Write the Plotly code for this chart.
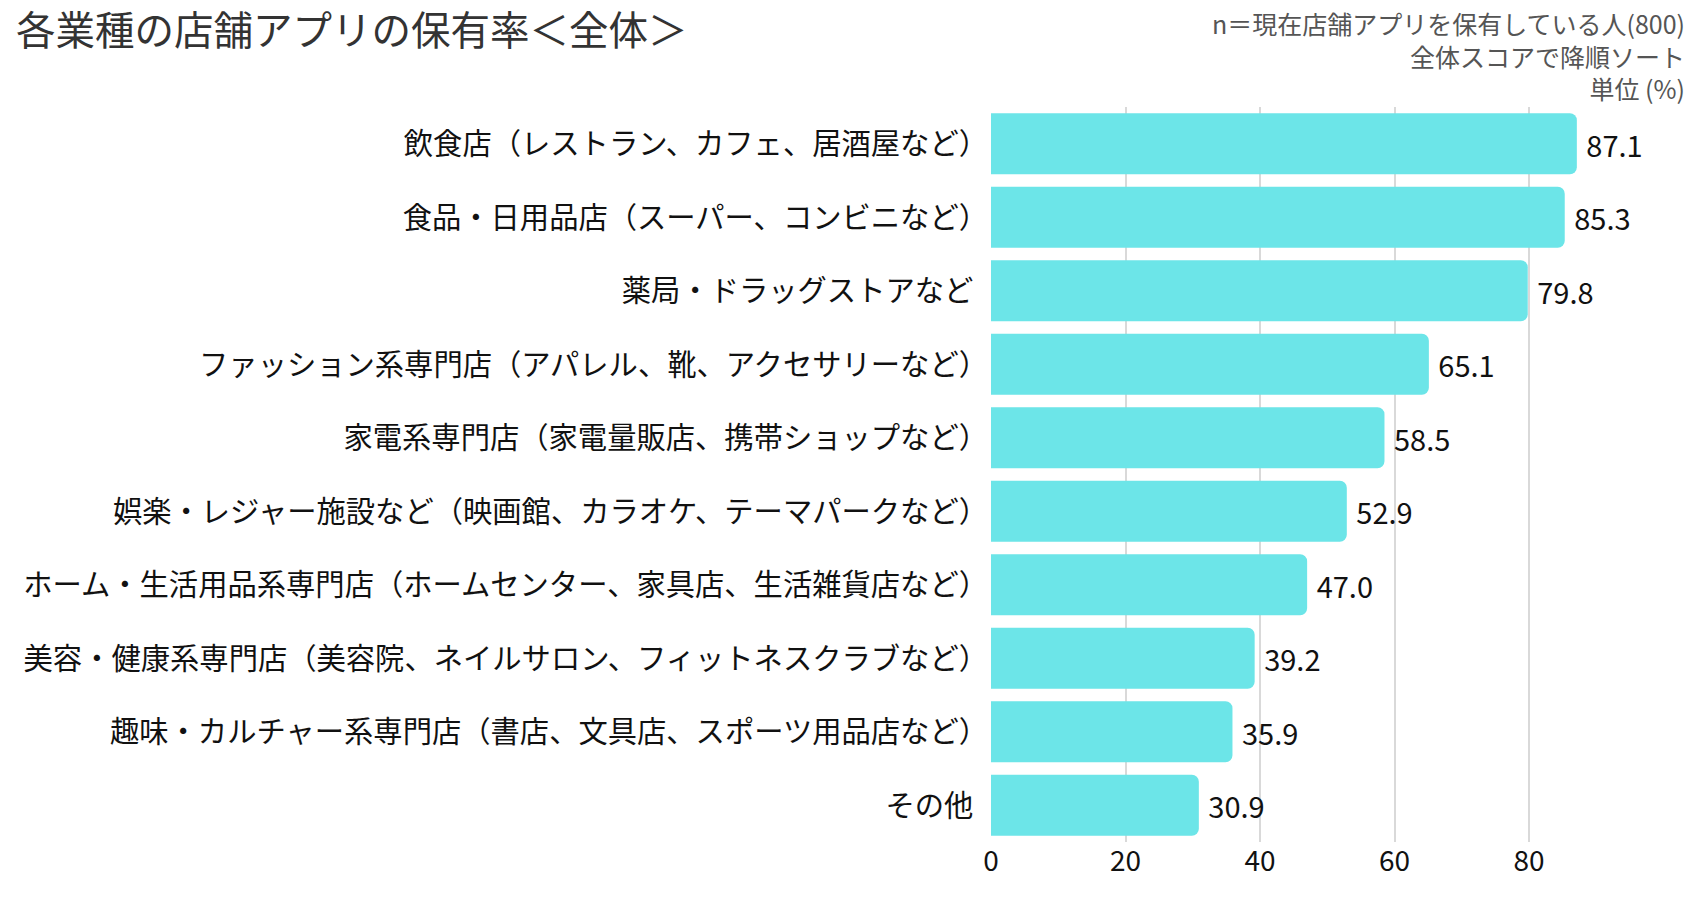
import plotly.graph_objects as go

categories = [
    "飲食店（レストラン、カフェ、居酒屋など）",
    "食品・日用品店（スーパー、コンビニなど）",
    "薬局・ドラッグストアなど",
    "ファッション系専門店（アパレル、靴、アクセサリーなど）",
    "家電系専門店（家電量販店、携帯ショップなど）",
    "娯楽・レジャー施設など（映画館、カラオケ、テーマパークなど）",
    "ホーム・生活用品系専門店（ホームセンター、家具店、生活雑貨店など）",
    "美容・健康系専門店（美容院、ネイルサロン、フィットネスクラブなど）",
    "趣味・カルチャー系専門店（書店、文具店、スポーツ用品店など）",
    "その他",
]
values = [87.1, 85.3, 79.8, 65.1, 58.5, 52.9, 47.0, 39.2, 35.9, 30.9]
x_ticks = [0, 20, 40, 60, 80]

title_text = "各業種の店舗アプリの保有率＜全体＞"
note_lines = ["n＝現在店舗アプリを保有している人(800)", "全体スコアで降順ソート", "単位 (%)"]

FONT = "Noto Sans CJK JP, Noto Sans, sans-serif"

# figure placed inside the page's default 8px body margin
W, H = 1692, 892
ML, MR, MT, MB = 983, 68, 99, 58
plot_w = W - ML - MR
plot_h = H - MT - MB


def px_to_paper_x(px):
    return (px - ML) / plot_w


def px_to_paper_y(py):
    return (H - MB - py) / plot_h


# labels whose last glyph is not a full-width bracket get an en space so all
# labels visually end at the same distance from the bars
tick_text = [c if c.endswith("）") else c + "\u2002" for c in categories]

fig = go.Figure(
    go.Bar(
        x=values,
        y=categories,
        orientation="h",
        marker=dict(color="#6CE5E8", cornerradius=7, line=dict(width=0)),
        texttemplate=" %{x:.1f}",
        textposition="outside",
        textfont=dict(size=29, color="#111111", family=FONT),
        cliponaxis=False,
        hoverinfo="skip",
    )
)

fig.update_layout(
    width=W,
    height=H,
    paper_bgcolor="white",
    plot_bgcolor="white",
    margin=dict(l=ML, r=MR, t=MT, b=MB, autoexpand=False),
    bargap=0.17,
    showlegend=False,
    font=dict(family=FONT, size=28, color="#111111"),
    xaxis=dict(
        range=[0, 95.3],
        tickvals=x_ticks,
        showgrid=True,
        gridcolor="#d9d9d9",
        gridwidth=1.5,
        zeroline=False,
        showline=False,
        ticklabelstandoff=0,
        tickfont=dict(size=28, color="#111111"),
        fixedrange=True,
    ),
    yaxis=dict(
        autorange="reversed",
        tickmode="array",
        tickvals=categories,
        ticktext=tick_text,
        showgrid=False,
        zeroline=False,
        showline=False,
        ticklabelstandoff=2,
        tickfont=dict(size=29.3, color="#111111"),
        fixedrange=True,
    ),
)

fig.add_annotation(
    text=title_text,
    xref="paper", yref="paper",
    x=px_to_paper_x(6), y=px_to_paper_y(19),
    xanchor="left", yanchor="middle",
    showarrow=False,
    font=dict(size=39.5, color="#333333", family=FONT),
)
fig.add_annotation(
    text="<br>".join(note_lines),
    xref="paper", yref="paper",
    x=px_to_paper_x(1679), y=px_to_paper_y(47.5),
    xanchor="right", yanchor="middle", align="right",
    showarrow=False,
    font=dict(size=25, color="#555555", family=FONT),
)

fig.write_html("out.html")
